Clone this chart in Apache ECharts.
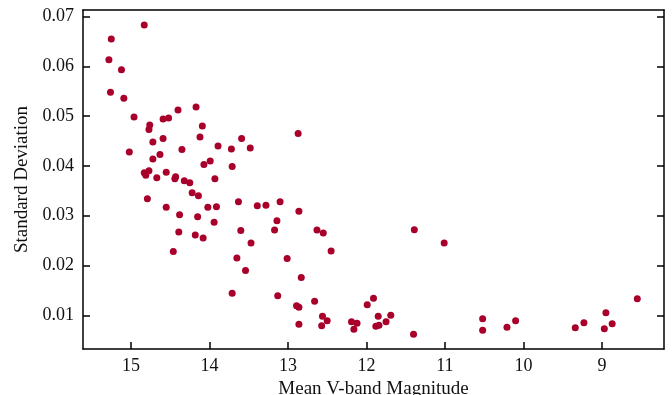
<!DOCTYPE html>
<html>
<head>
<meta charset="utf-8">
<script src="https://cdn.jsdelivr.net/npm/echarts@6/dist/echarts.min.js"></script>
<style>
  html, body { margin: 0; padding: 0; background: #fff; }
  #chart { width: 672px; height: 395px; }
</style>
</head>
<body>
<div id="chart"></div>
<script>
// mean V magnitude vs standard deviation
const magnitude = [
  14.83, 15.25, 15.28, 15.12, 15.26, 15.09, 14.96, 14.76, 14.77, 14.59,
  14.52, 14.40, 14.17, 14.09, 14.12, 14.59, 13.59, 14.72, 15.02, 13.89,
  13.72, 14.35, 14.63, 14.72, 13.99, 14.07, 13.71, 14.83, 14.81, 14.77,
  14.67, 14.55, 14.43, 14.44, 14.32, 14.25, 13.93, 14.22, 14.14, 14.79,
  13.63, 14.55, 14.02, 13.91, 14.38, 14.15, 13.94, 13.60, 14.39, 14.18,
  14.08, 14.46, 13.65, 12.87, 13.48, 13.39, 13.28, 13.10, 12.86, 13.14,
  13.17, 13.47, 12.63, 12.55, 12.45, 13.01, 13.54, 12.83, 13.71, 13.13,
  12.66, 12.89, 12.86, 12.56, 12.50, 12.86, 12.57, 12.19, 12.12, 12.16,
  11.39, 11.01, 11.91, 11.99, 11.85, 11.69, 11.75, 11.88, 11.84, 11.40,
  10.52, 10.52, 10.21, 10.10, 9.34, 9.23, 8.95, 8.97, 8.87, 8.55
];
const stdDev = [
  0.0683, 0.0655, 0.0613, 0.0593, 0.0548, 0.0536, 0.0498, 0.0482, 0.0473, 0.0494,
  0.0496, 0.0512, 0.0518, 0.0480, 0.0458, 0.0455, 0.0455, 0.0448, 0.0428, 0.0440,
  0.0434, 0.0433, 0.0423, 0.0414, 0.0410, 0.0403, 0.0399, 0.0386, 0.0381, 0.0390,
  0.0376, 0.0387, 0.0378, 0.0374, 0.0370, 0.0366, 0.0374, 0.0346, 0.0340, 0.0334,
  0.0328, 0.0317, 0.0317, 0.0318, 0.0302, 0.0298, 0.0287, 0.0270, 0.0267, 0.0261,
  0.0255, 0.0228, 0.0215, 0.0465, 0.0436, 0.0320, 0.0321, 0.0328, 0.0309, 0.0290,
  0.0271, 0.0245, 0.0271, 0.0265, 0.0229, 0.0214, 0.0190, 0.0176, 0.0144, 0.0139,
  0.0128, 0.0119, 0.0116, 0.0098, 0.0089, 0.0082, 0.0079, 0.0087, 0.0084, 0.0072,
  0.0272, 0.0245, 0.0134, 0.0121, 0.0098, 0.0100, 0.0087, 0.0078, 0.0080, 0.0062,
  0.0093, 0.0070, 0.0076, 0.0089, 0.0075, 0.0085, 0.0105, 0.0073, 0.0083, 0.0133
];
const xTicks = [15, 14, 13, 12, 11, 10, 9];
const yTicks = [0.01, 0.02, 0.03, 0.04, 0.05, 0.06, 0.07];

const points = magnitude.map((m, i) => [m, stdDev[i]]);

const chart = echarts.init(document.getElementById('chart'));
const serif = '"Liberation Serif", "DejaVu Serif", serif';

chart.setOption({
  animation: false,
  grid: { left: 83, right: 8, top: 10, bottom: 46, outerBoundsMode: 'none', containLabel: false },
  xAxis: [{
    type: 'value',
    inverse: true,
    min: 8.21,
    max: 15.61,
    name: 'Mean V-band Magnitude',
    nameLocation: 'middle',
    nameGap: 31,
    nameTextStyle: { color: '#111', fontFamily: serif, fontSize: 19 },
    axisLine: { show: true, onZero: false, lineStyle: { color: '#000', width: 1.5 } },
    axisTick: { show: true, inside: true, length: 7, lineStyle: { color: '#000', width: 1.5 }, customValues: xTicks },
    axisLabel: { color: '#111', fontFamily: serif, fontSize: 18, margin: 8, customValues: xTicks },
    splitLine: { show: false }
  }, {
    type: 'value',
    position: 'top',
    inverse: true,
    min: 8.21,
    max: 15.61,
    axisLine: { show: true, onZero: false, lineStyle: { color: '#000', width: 1.5 } },
    axisTick: { show: false },
    axisLabel: { show: false },
    splitLine: { show: false }
  }],
  yAxis: [{
    type: 'value',
    min: 0.00323,
    max: 0.0713,
    name: 'Standard Deviation',
    nameLocation: 'middle',
    nameGap: 50,
    nameTextStyle: { color: '#111', fontFamily: serif, fontSize: 19 },
    axisLine: { show: true, onZero: false, lineStyle: { color: '#000', width: 1.5 } },
    axisTick: { show: true, inside: true, length: 7, lineStyle: { color: '#000', width: 1.5 }, customValues: yTicks },
    axisLabel: {
      color: '#111', fontFamily: serif, fontSize: 18, margin: 9,
      customValues: yTicks,
      formatter: v => v.toFixed(2)
    },
    splitLine: { show: false }
  }, {
    type: 'value',
    position: 'right',
    min: 0.00323,
    max: 0.0713,
    axisLine: { show: true, onZero: false, lineStyle: { color: '#000', width: 1.5 } },
    axisTick: { show: true, inside: true, length: 7, lineStyle: { color: '#000', width: 1.5 }, customValues: yTicks },
    axisLabel: { show: false },
    splitLine: { show: false }
  }],
  series: [{
    type: 'scatter',
    data: points,
    symbolSize: 7,
    itemStyle: { color: '#a8002a', opacity: 1 }
  }]
});
</script>
</body>
</html>
